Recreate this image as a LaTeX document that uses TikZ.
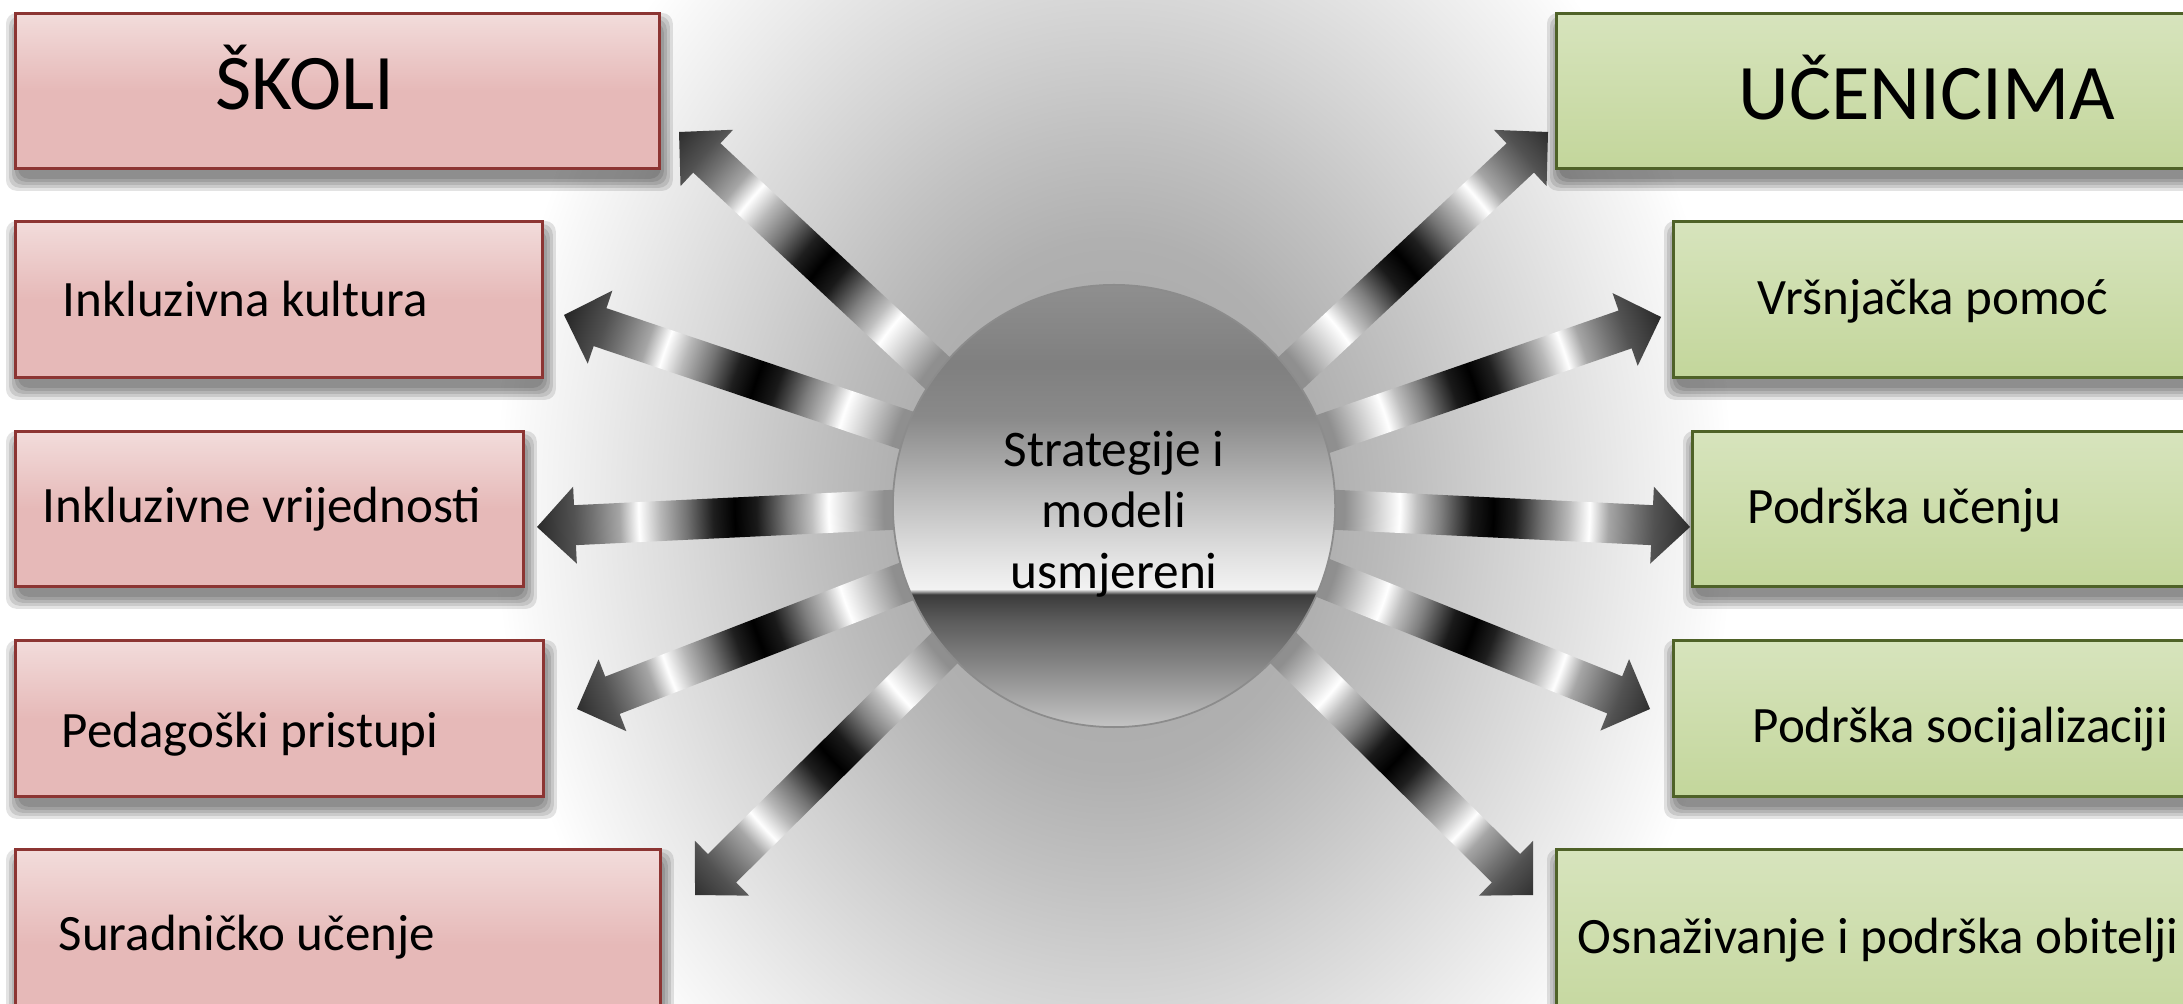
\documentclass[tikz,border=0pt]{standalone}
\usepackage{fontspec}
\setmainfont{Carlito}
\usetikzlibrary{calc}
\usetikzlibrary{backgrounds}

\definecolor{pinktop}{HTML}{F2DCDB}
\definecolor{pinkbot}{HTML}{E6B9B8}
\definecolor{pinkline}{HTML}{8C3533}
\definecolor{greentop}{HTML}{D7E4BD}
\definecolor{greenbot}{HTML}{C3D69B}
\definecolor{greenline}{HTML}{4F6228}

\pgfdeclareradialshading{glowshade}{\pgfpoint{0bp}{0bp}}{color(0bp)=(black!36); color(8.75bp)=(black!31); color(12.5bp)=(black!24); color(15.5bp)=(black!18); color(20.75bp)=(black!8); color(23.5bp)=(black!3); color(25bp)=(white); color(50bp)=(white)}
\pgfdeclareradialshading{rayrings}{\pgfpoint{0bp}{0bp}}{color(0bp)=(black!45); color(9.6bp)=(black!44); color(10.6bp)=(black!25); color(11.9bp)=(white); color(12.6bp)=(black!25); color(13.6bp)=(black!50); color(14.9bp)=(black!90); color(15.8bp)=(black); color(16.7bp)=(black!88); color(17.8bp)=(black!55); color(18.9bp)=(black!28); color(19.8bp)=(white); color(20.6bp)=(black!35); color(21.7bp)=(black!55); color(22.5bp)=(black!68); color(24.2bp)=(black!85); color(25bp)=(black!87); color(50bp)=(black!87)}
\pgfdeclareverticalshading{ballshade}{100bp}{color(0bp)=(black!23); color(25bp)=(black!23); color(31bp)=(black!44); color(37bp)=(black!64); color(40bp)=(black!77); color(40.6bp)=(black!5); color(44bp)=(black!11); color(52.5bp)=(black!29); color(60bp)=(black!46); color(66bp)=(black!50); color(75bp)=(black!44); color(100bp)=(black!44)}

\tikzset{pinkbox/.style={rectangle, anchor=north west, inner sep=0pt,
			draw=pinkline, line width=0.8pt,
			top color=pinktop, bottom color=pinkbot, middle color=pinkbot},
		greenbox/.style={pinkbox, draw=greenline,
			top color=greentop, bottom color=greenbot, middle color=greentop!50!greenbot},
		softshadow/.style={fill=black, opacity=0.11, rounded corners=3pt},
		boxtext/.style={inner sep=0pt, anchor=base west, font=\fontsize{14.5}{17}\selectfont},
		headtext/.style={inner sep=0pt, anchor=base, font=\fontsize{22.4}{26}\selectfont},
		ball/.style={circle, minimum size=4.42cm, inner sep=0pt,
			draw=black!45, line width=0.5pt, shade, shading=ballshade}}

\newcommand\rayarrow[2]{%
	\begin{scope}
		\coordinate (rs) at ($(#1)!-0.3cm!(#2)$);
		\coordinate (rb) at ($(#2)!0.38cm!(#1)$);
		\clip ($(rs)!0.2cm!90:(#2)$) -- ($(rb)!0.2cm!90:(#2)$) -- ($(rb)!0.385cm!90:(#2)$) -- (#2)
			-- ($(rb)!0.385cm!-90:(#2)$) -- ($(rb)!0.2cm!-90:(#2)$) -- ($(rs)!0.2cm!-90:(#2)$) -- cycle;
		\shade[shading=rayrings] (strat.center) circle [radius=6cm];
	\end{scope}}

\begin{document}
\begin{tikzpicture}[x=0.01cm,y=-0.01cm]
	\useasboundingbox (0,0) rectangle (2183,1004);
	
	\node[ball] (strat) at (1114,506) {};
	\node[align=center, font=\fontsize{14.6}{17.4}\selectfont] (stratText) at (1114,514) {Strategije i\\modeli\\usmjereni};
	
	\foreach \nm/\x/\y/\w/\h in {bSkoli/14/12/644/155, bKultura/14/220/527/156, bVrijed/14/430/508/155,
			bPristupi/14/639/528/156, bSurad/14/848/645/190}
		\node[pinkbox, minimum width=\w*0.01cm, minimum height=\h*0.01cm] (\nm) at (\x,\y) {};
	\foreach \nm/\x/\y/\w/\h in {bUcenici/1555/12/700/155, bVrsnj/1672/220/600/156, bUcenju/1691/430/600/155,
			bSocij/1672/639/600/156, bObitelj/1555/848/700/190}
		\node[greenbox, minimum width=\w*0.01cm, minimum height=\h*0.01cm] (\nm) at (\x,\y) {};
	
	\node[headtext] (tSkoli) at (305,110) {ŠKOLI};
	\node[boxtext] (tKultura) at (62,317) {Inkluzivna kultura};
	\node[boxtext] (tVrijed) at (42,523) {Inkluzivne vrijednosti};
	\node[boxtext] (tPristupi) at (61,748) {Pedagoški pristupi};
	\node[boxtext] (tSurad) at (58,950) {Suradničko učenje};
	
	\node[headtext] (tUcenici) at (1927,120) {UČENICIMA};
	\node[boxtext] (tVrsnj) at (1757,315) {Vršnjačka pomoć};
	\node[boxtext] (tUcenju) at (1747,524) {Podrška učenju};
	\node[boxtext] (tSocij) at (1752,742) {Podrška socijalizaciji};
	\node[boxtext] (tObitelj) at (1577,953) {Osnaživanje i podrška obitelji};
	
	\coordinate (aSkoli) at (679,132);
	\coordinate (aKultura) at (564,315);
	\coordinate (aVrijed) at (537,527);
	\coordinate (aPristupi) at (577,709);
	\coordinate (aSurad) at (695,895);
	\coordinate (aUcenici) at (1548,132);
	\coordinate (aVrsnj) at (1661,317);
	\coordinate (aUcenju) at (1690,527);
	\coordinate (aSocij) at (1650,709);
	\coordinate (aObitelj) at (1533,895);
	
	\begin{pgfonlayer}{background}
		\shade[shading=glowshade] (strat.center) ellipse [x radius=6.2cm, y radius=7.6cm];
		\foreach \nm in {bSkoli, bKultura, bVrijed, bPristupi, bSurad, bUcenici, bVrsnj, bUcenju, bSocij, bObitelj}
			\foreach \e in {10,7,4,1,-2}
				\fill[softshadow] ($(\nm.north west)+({2-(\e)},{11-(\e)})$) rectangle ($(\nm.south east)+({2+(\e)},{11+(\e)})$);
		\foreach \ang/\tip in {143/aSkoli, 160/aKultura, 181/aVrijed, 200/aPristupi, 220/aSurad,
				37/aUcenici, 19/aVrsnj, 359/aUcenju, 341/aSocij, 320/aObitelj}
			\rayarrow{strat.\ang}{\tip};
	\end{pgfonlayer}
\end{tikzpicture}
\end{document}
